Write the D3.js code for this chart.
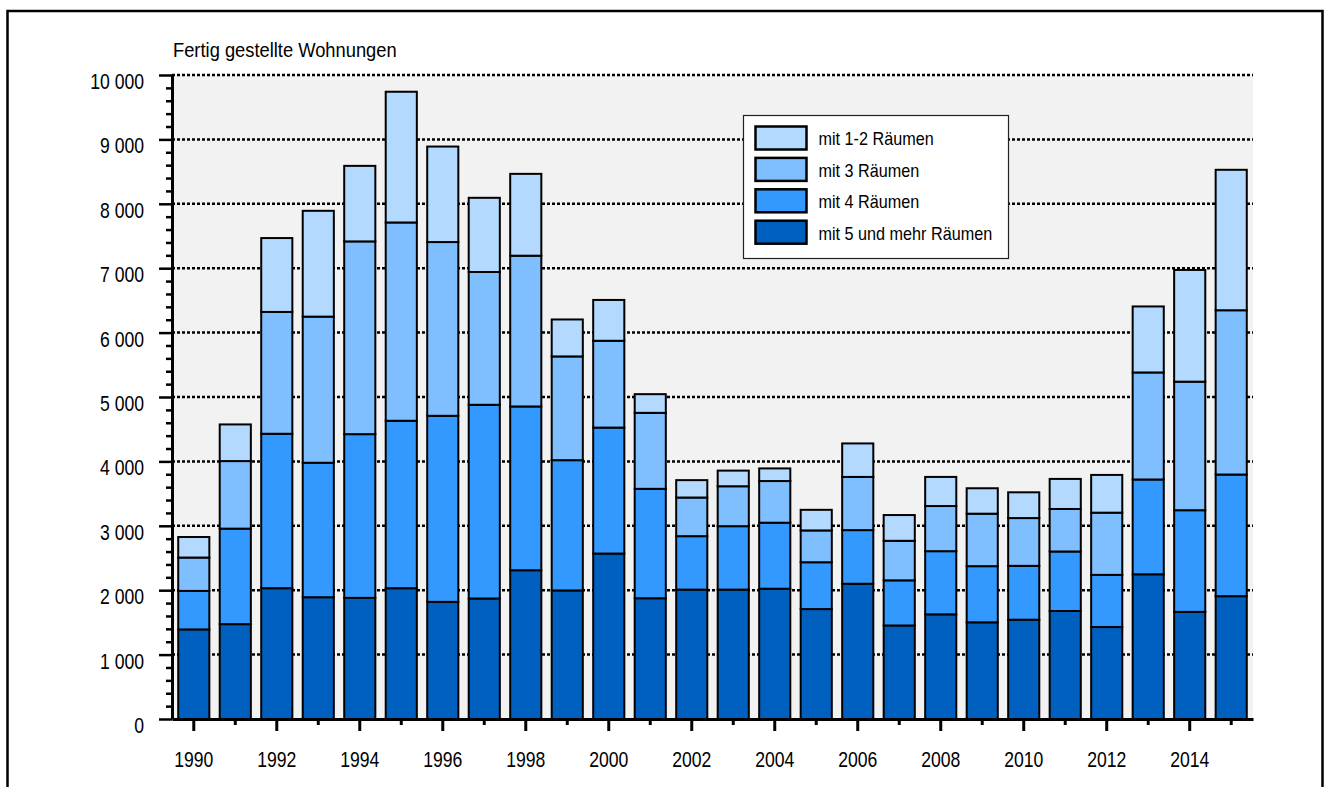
<!DOCTYPE html>
<html>
<head>
<meta charset="utf-8">
<script src="https://cdn.jsdelivr.net/npm/d3@7"></script>
<style>
  html, body { margin: 0; padding: 0; background: #fff; }
  svg { display: block; font-family: "Liberation Sans", Arial, sans-serif; }
  svg text { font-family: "Liberation Sans", Arial, sans-serif; }
</style>
</head>
<body>
<svg id="chart" width="1325" height="787"></svg>
<script>
// ---------- DATA ----------
const years = [1990,1991,1992,1993,1994,1995,1996,1997,1998,1999,2000,2001,2002,2003,2004,2005,2006,2007,2008,2009,2010,2011,2012,2013,2014,2015];
const mit5undMehr = [1391,1473,2031,1891,1881,2031,1819,1871,2310,1996,2569,1875,2009,2009,2023,1707,2100,1452,1625,1501,1542,1677,1428,2247,1663,1907];
const mit4        = [ 598,1483,2398,2088,2542,2600,2889,3008,2543,2023,1956,1699, 830, 985,1025, 727, 833, 701, 981, 872, 836, 924, 810,1472,1579,1889];
const mit3        = [ 518,1049,1892,2269,2993,3079,2698,2062,2341,1611,1348,1180, 600, 620, 647, 494, 826, 614, 701, 815, 742, 660, 966,1662,1996,2551];
const mit1bis2    = [ 319, 569,1147,1643,1173,2030,1483,1152,1271, 574, 634, 290, 270, 243, 196, 320, 520, 400, 452, 395, 400, 467, 586,1025,1735,2181];
const seriesNames = ["mit 5 und mehr Räumen","mit 4 Räumen","mit 3 Räumen","mit 1-2 Räumen"];
const seriesColors = ["#0060bf","#3399ff","#80bfff","#b3d9ff"];
const legendOrder = ["mit 1-2 Räumen","mit 3 Räumen","mit 4 Räumen","mit 5 und mehr Räumen"];
const yMajorTicks = [0,1000,2000,3000,4000,5000,6000,7000,8000,9000,10000];
const xLabelYears = [1990,1992,1994,1996,1998,2000,2002,2004,2006,2008,2010,2012,2014];
const yTitle = "Fertig gestellte Wohnungen";

// ---------- LAYOUT ----------
const svg = d3.select("#chart");
const plot = {left: 172, right: 1253, top: 75, bottom: 719};
const SX = 0.8; // horizontal text compression
const FONT = "Liberation Sans, Arial, sans-serif";

const rows = years.map((y,i) => ({
  year: y,
  [seriesNames[0]]: mit5undMehr[i],
  [seriesNames[1]]: mit4[i],
  [seriesNames[2]]: mit3[i],
  [seriesNames[3]]: mit1bis2[i]
}));
const stack = d3.stack().keys(seriesNames)(rows);

const x = d3.scaleBand().domain(years).range([plot.left, plot.right]).paddingInner(0.25).paddingOuter(0.15);
const y = d3.scaleLinear().domain([0, 10000]).range([plot.bottom, plot.top]);
const color = d3.scaleOrdinal().domain(seriesNames).range(seriesColors);

// outer frame
svg.append("rect").attr("x", 7.5).attr("y", 11).attr("width", 1315).attr("height", 820)
  .attr("fill", "none").attr("stroke", "#000").attr("stroke-width", 2.5);

// plot background
svg.append("rect").attr("x", plot.left).attr("y", plot.top)
  .attr("width", plot.right - plot.left).attr("height", plot.bottom - plot.top)
  .attr("fill", "#f2f2f2");

// gridlines
svg.append("g").selectAll("line").data(yMajorTicks.filter(d => d > 0)).join("line")
  .attr("x1", plot.left).attr("x2", plot.right)
  .attr("y1", d => y(d)).attr("y2", d => y(d))
  .attr("stroke", "#000").attr("stroke-width", 2.5).attr("stroke-dasharray", "3,2");

// bars
svg.append("g").selectAll("g").data(stack).join("g")
  .attr("fill", d => color(d.key))
  .selectAll("rect").data(d => d).join("rect")
  .attr("x", d => x(d.data.year))
  .attr("width", x.bandwidth())
  .attr("y", d => y(d[1]))
  .attr("height", d => y(d[0]) - y(d[1]))
  .attr("stroke", "#000").attr("stroke-width", 2);

// format with space thousands
const fmt = d3.formatLocale({decimal: ",", thousands: " ", grouping: [3], currency: ["", ""]}).format(",d");

// y axis minor ticks
const minorVals = d3.range(0, 10001, 200).filter(v => v % 1000 !== 0);
svg.append("g").attr("transform", `translate(${plot.left},0)`)
  .call(d3.axisLeft(y).tickValues(minorVals).tickSize(6).tickFormat(""))
  .call(g => g.select(".domain").remove())
  .call(g => g.selectAll("line").attr("stroke-width", 2.5));

// y axis major
const yAxis = svg.append("g").attr("transform", `translate(${plot.left},0)`)
  .call(d3.axisLeft(y).tickValues(yMajorTicks).tickSizeInner(13).tickSizeOuter(0).tickFormat(fmt))
  .attr("font-family", FONT).attr("font-size", 22);
yAxis.select(".domain").attr("stroke-width", 3);
yAxis.selectAll("line").attr("stroke-width", 2.5);
yAxis.selectAll("text")
  .attr("x", null).attr("dy", null)
  .attr("text-anchor", "end")
  .attr("fill", "#000")
  .attr("transform", `translate(-28,13.5) scale(${SX},1)`);

// x axis
const xAxis = svg.append("g").attr("transform", `translate(0,${plot.bottom})`)
  .call(d3.axisBottom(x).tickSizeInner(12).tickSizeOuter(0)
    .tickFormat(d => xLabelYears.includes(d) ? String(d) : ""))
  .attr("font-family", FONT).attr("font-size", 22);
xAxis.select(".domain").attr("stroke-width", 3);
xAxis.selectAll(".tick line").attr("stroke-width", 3)
  .attr("y2", d => xLabelYears.includes(d) ? 12 : 6);
xAxis.selectAll("text")
  .attr("y", null).attr("dy", null)
  .attr("text-anchor", "middle")
  .attr("fill", "#000")
  .attr("transform", `translate(0,47.5) scale(${SX},1)`);

// title
svg.append("text").attr("transform", "translate(173,57) scale(0.94,1)")
  .attr("font-family", FONT).attr("font-size", 19.5).attr("fill", "#000").text(yTitle);

// legend
const lg = svg.append("g").attr("transform", "translate(743.5,115.5)");
lg.append("rect").attr("width", 265).attr("height", 143)
  .attr("fill", "#fff").attr("stroke", "#222").attr("stroke-width", 1.2);
const items = lg.selectAll("g.item").data(legendOrder).join("g")
  .attr("transform", (d, i) => `translate(12,${11 + i * 31.4})`);
items.append("rect").attr("width", 51).attr("height", 23)
  .attr("fill", d => color(d)).attr("stroke", "#000").attr("stroke-width", 2.5);
items.append("text")
  .attr("transform", `translate(63,18.8) scale(0.9,1)`)
  .attr("font-family", FONT).attr("font-size", 18).attr("fill", "#000").text(d => d);
</script>
</body>
</html>
